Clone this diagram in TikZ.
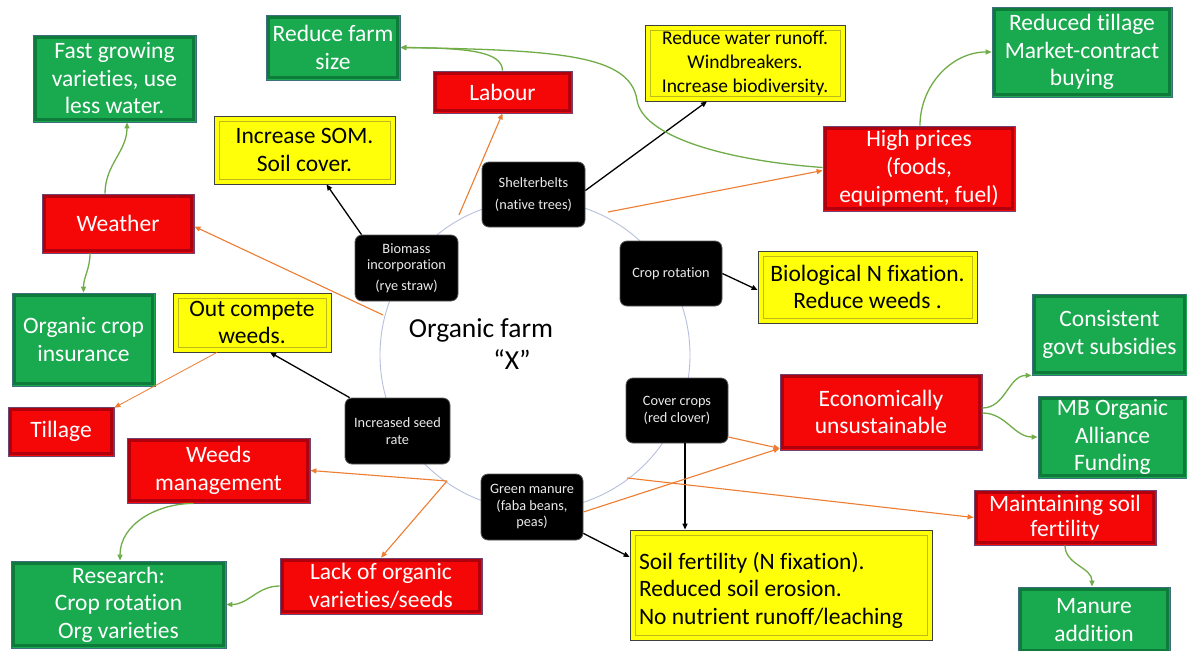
\documentclass[tikz,border=0pt]{standalone}
\usepackage{fontspec}
\setmainfont{Carlito}[Ligatures=NoCommon]
\usetikzlibrary{arrows.meta,calc}
\definecolor{gfill}{HTML}{19A94F}
\definecolor{gdark}{HTML}{0E7B3B}
\definecolor{gline}{HTML}{3D6F7F}
\definecolor{rfill}{HTML}{F60707}
\definecolor{rdark}{HTML}{B0000E}
\definecolor{rline}{HTML}{6E4470}
\definecolor{yfill}{HTML}{FFFF0A}
\definecolor{ydark}{HTML}{BDBB1A}
\definecolor{yline}{HTML}{3F4040}
\definecolor{orangeln}{HTML}{ED7D31}
\definecolor{greenln}{HTML}{70AD47}
\definecolor{circ}{HTML}{B7BFDD}
\begin{document}
\begin{tikzpicture}[x=1pt,y=-1pt,
  bx/.style={inner sep=0pt, align=center, line width=0.8pt, font=\fontsize{23.5}{27.5}\selectfont},
  gbox/.style={bx, fill=gfill, draw=gline, text=white,
    path picture={\draw[gdark,line width=3pt] ([shift={(2.5pt,-2.5pt)}]path picture bounding box.north west) rectangle ([shift={(-2.5pt,2.5pt)}]path picture bounding box.south east);}},
  rbox/.style={bx, fill=rfill, draw=rline, text=white,
    path picture={\draw[rdark,line width=3pt] ([shift={(2.5pt,-2.5pt)}]path picture bounding box.north west) rectangle ([shift={(-2.5pt,2.5pt)}]path picture bounding box.south east);}},
  ybox/.style={bx, fill=yfill, draw=yline, text=black,
    path picture={\draw[ydark,line width=1pt] ([shift={(5pt,-5pt)}]path picture bounding box.north west) rectangle ([shift={(-5pt,5pt)}]path picture bounding box.south east);}},
  blk/.style={fill=black, draw=black!65, line width=0.8pt, rounded corners=7pt, text=white!92!black, align=center, inner sep=0pt, font=\fontsize{14.3}{16.5}\selectfont},
  sz/.style 2 args={minimum width=#1pt, minimum height=#2pt},
  barr/.style={draw=black, line width=1.3pt, -{Triangle[length=6pt,width=5pt]}},
  oarr/.style={draw=orangeln, line width=1.1pt, -{Triangle[length=6pt,width=5pt]}},
  garr/.style={draw=greenln, line width=1.3pt, -{Triangle[length=6pt,width=5pt]}},
  title/.style={font=\fontsize{27.5}{32}\selectfont, text=black}
]
\useasboundingbox[fill=white] (0,0) rectangle (1187,651);
\draw[circ, line width=0.9pt] (535,355) circle[radius=155pt];

\node[gbox, sz={163}{87}] (fast) at (114.5,78.5) {Fast growing\\varieties, use\\less water.};
\node[gbox, sz={134}{65}] (farm) at (333,47.5) {Reduce farm\\size};
\node[rbox, sz={139}{42}] (labour) at (502.5,92) {Labour};
\node[ybox, sz={200}{76}, font=\fontsize{19.5}{24}\selectfont] (water) at (745,63) {Reduce water runoff.\\Windbreakers.\\Increase biodiversity.};
\node[gbox, sz={180}{90}] (redtill) at (1082,52) {Reduced tillage\\Market-contract\\buying};
\node[rbox, sz={192}{85}, font=\fontsize{23.5}{28}\selectfont] (prices) at (919,168.5) {High prices\\(foods,\\equipment, fuel)};
\node[ybox, sz={181}{68}] (som) at (304.5,150) {Increase SOM.\\Soil cover.};
\node[rbox, sz={152}{59}] (weather) at (118,223.5) {Weather};
\node[blk, sz={103}{65}] (shelter) at (533.5,194.5) {Shelterbelts\\[6pt](native trees)};
\node[blk, sz={103}{66}] (biomass) at (406.5,268) {Biomass\\incorporation\\[4pt](rye straw)};
\node[blk, sz={102}{65}] (croprot) at (671,273.5) {Crop rotation};
\node[ybox, sz={219}{72}] (bion) at (867.5,287) {Biological N fixation.\\Reduce weeds .};
\node[gbox, sz={143}{93}] (insur) at (83.5,339.5) {Organic crop\\insurance};
\node[ybox, sz={158}{59}] (outc) at (252,322.5) {Out compete\\weeds.};
\node[title] (farmname) at (481,330) {Organic farm};
\node[title] (farmx) at (512,360) {“X”};
\node[rbox, sz={106}{49}] (tillage) at (61,431.5) {Tillage};
\node[blk, sz={105}{66}] (seed) at (397.5,431) {Increased seed\\rate};
\node[blk, sz={102}{65}] (cover) at (677,410.5) {Cover crops\\(red clover)};
\node[rbox, sz={202}{76}] (econ) at (881,412) {Economically\\unsustainable};
\node[gbox, sz={155}{81}] (govt) at (1109.5,334.5) {Consistent\\govt subsidies};
\node[gbox, sz={149}{82}] (mb) at (1112.5,437) {MB Organic\\Alliance\\Funding};
\node[rbox, sz={183}{65}] (weeds) at (218.5,470.5) {Weeds\\management};
\node[blk, sz={102}{66}] (gm) at (532,507) {Green manure\\(faba beans,\\peas)};
\node[rbox, sz={182}{55}, font=\fontsize{23.5}{25}\selectfont] (maint) at (1065,517.5) {Maintaining soil\\fertility};
\node[ybox, sz={302}{110}, align=flush left, text width=284pt, inner xsep=9pt] (soil) at (781,585) {\mbox{}\\Soil fertility (N fixation).\\Reduced soil erosion.\\No nutrient runoff/leaching};
\node[gbox, sz={215}{87}] (research) at (118.5,604.5) {Research:\\Crop rotation\\Org varieties};
\node[rbox, sz={202}{56}] (lack) at (381,586) {Lack of organic\\varieties/seeds};
\node[gbox, sz={152}{66}] (manure) at (1094,620) {Manure\\addition};

\coordinate (cA) at (459,215);
\coordinate (cB) at (608,212);
\coordinate (cC) at (383,315);
\coordinate (cD) at (447,481);
\coordinate (cE) at (627,478);

% black arrows
\draw[barr] ([yshift=4pt]shelter.east) -- ([xshift=-38pt]water.south);
\draw[barr] ([xshift=-45pt]biomass.north) -- ([xshift=22pt]som.south);
\draw[barr] (croprot.east) -- ([yshift=-3pt]bion.west);
\draw[barr] ([xshift=5pt]seed.north west) -- ([xshift=18pt]outc.south);
\draw[barr] ([xshift=8pt]cover.south) -- ([xshift=-96pt]soil.north);
\draw[barr] ([yshift=7pt]gm.south east) -- ([yshift=28pt]soil.west);

% orange arrows
\draw[oarr] (cA) -- (labour.south);
\draw[oarr] (cB) -- ([yshift=-2pt]prices.west);
\draw[oarr] (cC) -- ([yshift=-3pt]weather.east);
\draw[oarr, line width=0.8pt] ([xshift=-35pt]outc.south) -- ([yshift=-1pt]tillage.north east);
\draw[oarr] (cD) -- (weeds.east);
\draw[oarr] (cD) -- (lack.north);
\draw[oarr] (cE) -- (maint.west);
\draw[oarr] ([yshift=-5pt]gm.east) -- ([yshift=2pt]econ.south west);
\draw[oarr] ([yshift=-26.5pt]cover.east) -- ([yshift=2pt]econ.south west);

% green arrows
\draw[garr] ([xshift=-13pt]weather.north) to[out=90,in=-90] ([xshift=12.5pt]fast.south);
\draw[garr] ([xshift=-28pt]weather.south) to[out=-90,in=90] (insur.north);
\draw[garr] ([yshift=1pt]prices.west) .. controls (720,160) and (642,135) .. (637,100) .. controls (630,55) and (560,50) .. (farm.east);
\draw[garr] (labour.north) .. controls (502,52) and (470,48) .. (farm.east);
\draw[garr] ([xshift=1pt]prices.north) to[out=90,in=180] (redtill.west);
\draw[garr] ([yshift=4pt]econ.east) to[out=0,in=180] (govt.south west);
\draw[garr] ([yshift=-1pt]econ.east) to[out=0,in=180] (mb.west);
\draw[garr] (maint.south) to[out=-90,in=90] ([xshift=-2pt]manure.north);
\draw[garr] ([xshift=-25pt]weeds.south) to[out=180,in=90] ([xshift=1.5pt]research.north);
\draw[garr] (lack.west) to[out=180,in=0] (research.east);
\end{tikzpicture}
\end{document}
